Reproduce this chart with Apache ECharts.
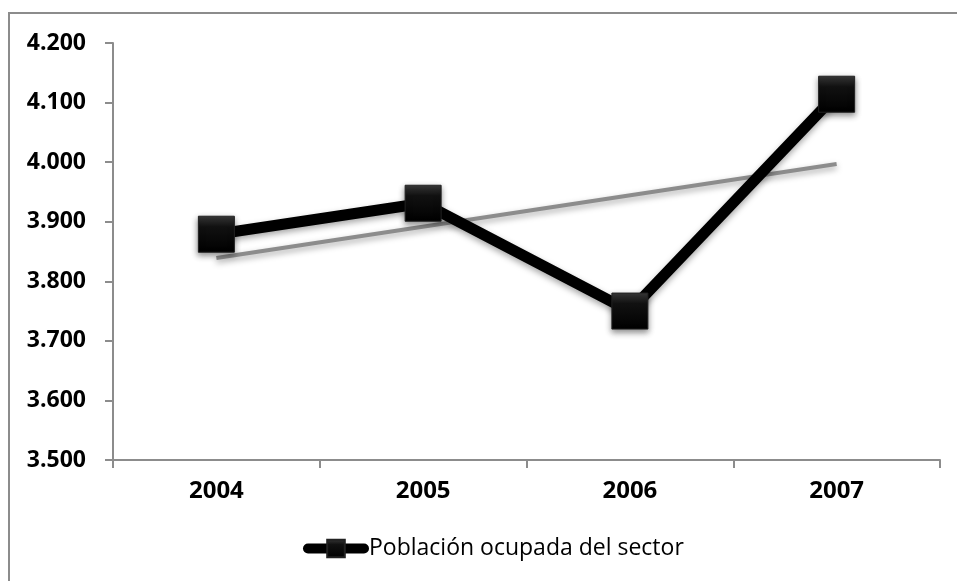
<!DOCTYPE html>
<html>
<head>
<meta charset="utf-8">
<script src="https://cdn.jsdelivr.net/npm/echarts@6/dist/echarts.min.js"></script>
<style>
  html, body { margin: 0; padding: 0; background: #fff; }
  #chart { width: 957px; height: 581px; }
</style>
</head>
<body>
<div id="chart"></div>
<script>
// datos
var years = ['2004', '2005', '2006', '2007'];
var ocupados = [3879, 3931, 3750, 4114];
// linea de tendencia (solo extremos)
var tendencia = [3839, null, null, 3997];
var serieName = 'Población ocupada del sector';

var chart = echarts.init(document.getElementById('chart'));

var fmt = function (v) {
  var s = String(Math.round(v));
  return s.slice(0, s.length - 3) + '.' + s.slice(-3);
};

chart.setOption({
  animation: false,
  backgroundColor: '#fff',
  textStyle: { fontFamily: 'Open Sans' },
  graphic: [{
    type: 'rect',
    shape: { x: 9, y: 13, width: 960, height: 580 },
    style: { fill: 'none', stroke: '#8c8c8c', lineWidth: 2 },
    silent: true
  }],
  grid: { left: 113, top: 43, right: 17, bottom: 121 },
  legend: {
    data: [serieName],
    top: 537,
    left: 303,
    padding: 0,
    itemWidth: 56,
    itemHeight: 22,
    itemGap: 4,
    lineStyle: { width: 10, cap: 'round' },
    textStyle: { fontSize: 23, color: '#000', fontFamily: 'Open Sans' }
  },
  xAxis: {
    type: 'category',
    data: years,
    boundaryGap: true,
    axisLine: { lineStyle: { color: '#8c8c8c', width: 2 } },
    axisTick: { show: true, length: 8, lineStyle: { color: '#8c8c8c', width: 2 } },
    axisLabel: { fontSize: 24, fontWeight: 'bold', color: '#000', margin: 19 },
    splitLine: { show: false }
  },
  yAxis: {
    type: 'value',
    min: 3500,
    max: 4200,
    interval: 100,
    axisLine: { show: true, lineStyle: { color: '#8c8c8c', width: 2 } },
    axisTick: { show: true, length: 8, lineStyle: { color: '#8c8c8c', width: 2 } },
    axisLabel: { fontSize: 23, fontWeight: 'bold', color: '#000', margin: 27, formatter: fmt },
    splitLine: { show: false }
  },
  series: [{
    name: 'tendencia',
    type: 'line',
    data: tendencia,
    connectNulls: true,
    symbol: 'none',
    z: 2,
    lineStyle: {
      color: '#8c8c8c', width: 4,
      shadowColor: 'rgba(0,0,0,0.35)', shadowBlur: 6, shadowOffsetY: 3
    }
  }, {
    name: serieName,
    type: 'line',
    data: ocupados,
    symbol: 'rect',
    symbolSize: 36,
    z: 3,
    itemStyle: {
      color: new echarts.graphic.LinearGradient(0, 0, 0, 1, [
        { offset: 0, color: '#3a3a3a' },
        { offset: 0.3, color: '#111' },
        { offset: 1, color: '#000' }
      ]),
      borderColor: '#222',
      borderWidth: 1,
      shadowColor: 'rgba(0,0,0,0.45)', shadowBlur: 6, shadowOffsetY: 3
    },
    lineStyle: {
      color: '#000', width: 11,
      shadowColor: 'rgba(0,0,0,0.35)', shadowBlur: 6, shadowOffsetY: 3
    }
  }]
});
</script>
</body>
</html>
